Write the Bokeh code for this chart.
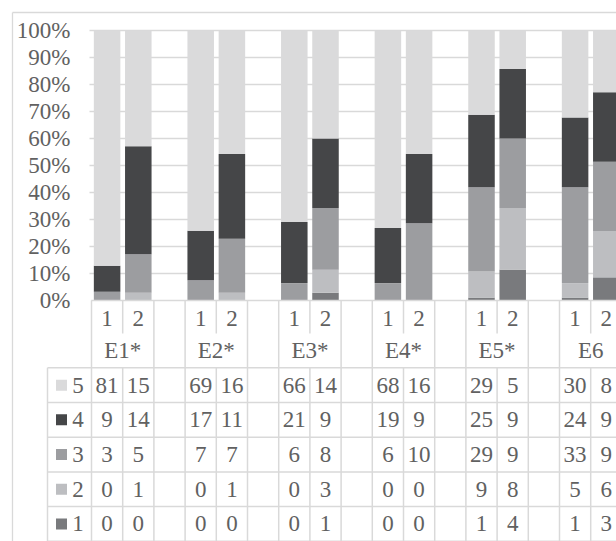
from bokeh.plotting import figure
from bokeh.models import ColumnDataSource, Range1d
from bokeh.core.properties import value
from bokeh.embed import file_html
from bokeh.resources import INLINE

# ---- data -------------------------------------------------------------
groups = ["E1*", "E2*", "E3*", "E4*", "E5*", "E6"]
waves = ["1", "2"]
levels = ["5", "4", "3", "2", "1"]

# answer counts per (group, wave): E1*-1, E1*-2, E2*-1, E2*-2, ...
counts_5 = [81, 15, 69, 16, 66, 14, 68, 16, 29, 5, 30, 8]
counts_4 = [9, 14, 17, 11, 21, 9, 19, 9, 25, 9, 24, 9]
counts_3 = [3, 5, 7, 7, 6, 8, 6, 10, 29, 9, 33, 9]
counts_2 = [0, 1, 0, 1, 0, 3, 0, 0, 9, 8, 5, 6]
counts_1 = [0, 0, 0, 0, 0, 1, 0, 0, 1, 4, 1, 3]

y_ticks = [0, 10, 20, 30, 40, 50, 60, 70, 80, 90, 100]
y_tick_labels = ["0%", "10%", "20%", "30%", "40%", "50%", "60%", "70%", "80%", "90%", "100%"]

level_colors = {
    "5": "#dadadb",
    "4": "#454648",
    "3": "#9c9da0",
    "2": "#bdbec1",
    "1": "#797a7d",
}

# ---- layout (pixel geometry of the canvas) ----------------------------
W, H = 616, 541
X0, SW = 91.0, 31.2          # left edge of the category area, width of one slot
Y0, K = 300.0, 2.7           # pixel row of 0 %, pixels per percent
ROW_TOP, ROW_H = 367.3, 34.7  # data table
GRID = "#d9d9d9"
TXT = "#616161"
FONT = value("'Liberation Serif', 'Times New Roman', 'DejaVu Serif', serif")
FS = "23px"


def fx(px):
    return (px - X0) / SW


def fy(py):
    return (Y0 - py) / K


p = figure(width=W, height=H, output_backend="svg", toolbar_location=None,
           x_axis_type=None, y_axis_type=None, min_border=0,
           x_range=Range1d(fx(0), fx(W)), y_range=Range1d(fy(H), fy(0)),
           outline_line_color=None, background_fill_color="white",
           border_fill_color="white")
p.xgrid.visible = False
p.ygrid.visible = False

# outer chart frame (continues past the right and bottom edges)
p.segment(x0=[fx(12), fx(12)], y0=[fy(12), fy(12)],
          x1=[fx(W + 5), fx(12)], y1=[fy(12), fy(H + 5)],
          line_color=GRID, line_width=1.3)

# horizontal gridlines
grid_ticks = y_ticks[1:]
p.segment(x0=[fx(89)] * len(grid_ticks), x1=[fx(W + 5)] * len(grid_ticks),
          y0=grid_ticks, y1=grid_ticks, line_color=GRID, line_width=1.3)

# y tick labels
p.text(x=[fx(70)] * len(y_ticks), y=y_ticks, text=y_tick_labels,
       text_font=FONT, text_font_size=FS, text_color=TXT,
       text_align="right", text_baseline="middle")

# ---- stacked 100 % bars ------------------------------------------------
n_slots = 3 * len(groups)
slot_x = []
for g in range(len(groups)):
    for b in range(len(waves)):
        slot_x.append(3 * g + b + 0.5)

totals = [a + b + c + d + e for a, b, c, d, e in
          zip(counts_1, counts_2, counts_3, counts_4, counts_5)]
series = {"1": counts_1, "2": counts_2, "3": counts_3, "4": counts_4, "5": counts_5}
src = ColumnDataSource(dict(
    x=slot_x,
    **{"p" + k: [100.0 * v / t for v, t in zip(vals, totals)] for k, vals in series.items()}
))
stack_order = ["1", "2", "3", "4", "5"]
p.vbar_stack(["p" + k for k in stack_order], x="x", width=0.85, source=src,
             color=[level_colors[k] for k in stack_order], line_color=None)

# ---- category axis rows ------------------------------------------------
# 0 % line / top of the axis table
p.segment(x0=[fx(X0 - 0.3)], x1=[fx(W + 5)], y0=[0], y1=[0],
          line_color=GRID, line_width=1.5)

row1_bottom = fy(333)
bx_tall, bx_short = [], []
for k in range(n_slots + 1):
    (bx_short if k % 3 == 1 else bx_tall).append(k)
p.segment(x0=bx_tall, x1=bx_tall, y0=[0] * len(bx_tall), y1=[fy(ROW_TOP)] * len(bx_tall),
          line_color=GRID, line_width=1.5)
p.segment(x0=bx_short, x1=bx_short, y0=[0] * len(bx_short), y1=[row1_bottom] * len(bx_short),
          line_color=GRID, line_width=1.5)

wave_labels = [waves[i % 2] for i in range(len(slot_x))]
p.text(x=slot_x, y=[fy(318)] * len(slot_x), text=wave_labels,
       text_font=FONT, text_font_size=FS, text_color=TXT,
       text_align="center", text_baseline="middle")
p.text(x=[3 * g + 1.0 for g in range(len(groups))], y=[fy(350)] * len(groups), text=groups,
       text_font=FONT, text_font_size=FS, text_color=TXT,
       text_align="center", text_baseline="middle")

# ---- data table --------------------------------------------------------
n_rows = len(levels)
h_lines = [fy(ROW_TOP + ROW_H * r) for r in range(n_rows + 1)]
p.segment(x0=[fx(47)] * len(h_lines), x1=[fx(W + 5)] * len(h_lines),
          y0=h_lines, y1=h_lines, line_color=GRID, line_width=1.5)
v_lines = [fx(47)] + list(range(n_slots + 1))
p.segment(x0=v_lines, x1=v_lines, y0=[fy(ROW_TOP)] * len(v_lines),
          y1=[fy(H + 5)] * len(v_lines), line_color=GRID, line_width=1.5)

row_y = [fy(ROW_TOP + ROW_H * (r + 0.5)) for r in range(n_rows)]
p.scatter(x=[fx(61)] * n_rows, y=row_y, marker="square", size=11,
          color=[level_colors[k] for k in levels], line_color=None)
p.text(x=[fx(77.5)] * n_rows, y=row_y, text=levels,
       text_font=FONT, text_font_size=FS, text_color=TXT,
       text_align="center", text_baseline="middle")

cell_x, cell_y, cell_t = [], [], []
for r, lev in enumerate(levels):
    for x, v in zip(slot_x, series[lev]):
        cell_x.append(x)
        cell_y.append(row_y[r])
        cell_t.append(str(v))
p.text(x=cell_x, y=cell_y, text=cell_t,
       text_font=FONT, text_font_size=FS, text_color=TXT,
       text_align="center", text_baseline="middle")

open("out.html", "w").write(file_html(p, INLINE))
